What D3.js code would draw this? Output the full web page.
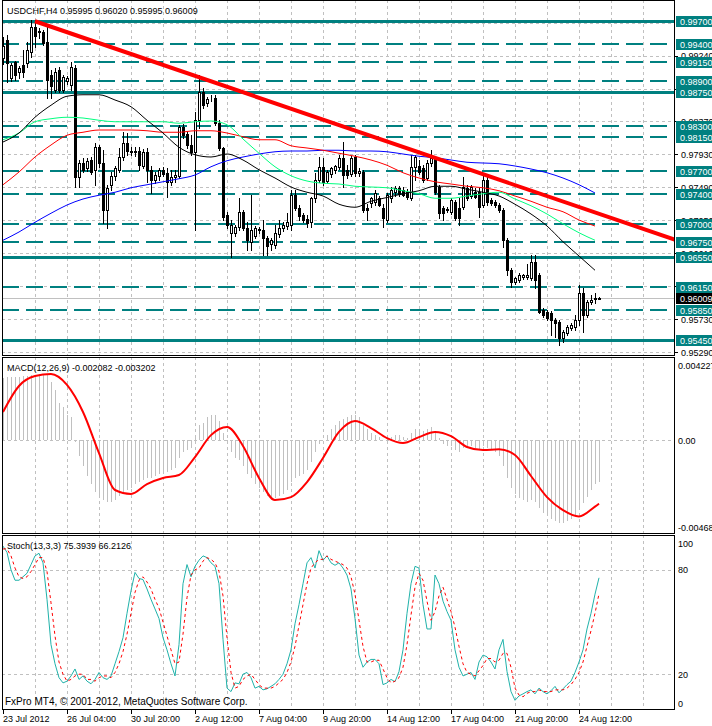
<!DOCTYPE html>
<html><head><meta charset="utf-8">
<script src="https://cdn.jsdelivr.net/npm/d3@7"></script>
<style>
body{margin:0;background:#fff}
svg{display:block}
text{font-family:"Liberation Sans",Arial,sans-serif;font-size:9px;fill:#000}
</style>
</head><body>
<svg id="c" width="712" height="726"></svg>
<script>
// ---------- DATA ----------
const symbolTitle = "USDCHF,H4  0.95995 0.96020 0.95995 0.96009";
const macdTitle = "MACD(12,26,9) -0.002082 -0.003202";
const stochTitle = "Stoch(13,3,3) 75.3939 66.2126";
const footer = "FxPro MT4, \u00A9 2001-2012, MetaQuotes Software Corp.";

const opens = [0.9921,0.9945,0.9894,0.9916,0.9902,0.9912,0.9914,0.9929,0.9962,0.9956,
0.9956,0.9942,0.9898,0.9878,0.9905,0.9878,0.9890,0.9885,0.9908,0.9762,
0.9781,0.9774,0.9785,0.9772,0.9802,0.9781,0.9718,0.9752,0.9764,0.9772,
0.9789,0.9808,0.9797,0.9796,0.9797,0.9777,0.9796,0.9772,0.9758,0.9764,
0.9772,0.9768,0.9756,0.9762,0.9764,0.9829,0.9820,0.9805,0.9796,0.9838,
0.9876,0.9861,0.9868,0.9868,0.9834,0.9801,0.9712,0.9688,0.9688,0.9696,
0.9716,0.9694,0.9676,0.9684,0.9692,0.9692,0.9681,0.9673,0.9672,0.9686,
0.9694,0.9697,0.9698,0.9738,0.9721,0.9712,0.9706,0.9702,0.9734,0.9758,
0.9776,0.9757,0.9766,0.9772,0.9776,0.9788,0.9772,0.9766,0.9789,0.9768,
0.9769,0.9721,0.9728,0.9729,0.9734,0.9721,0.9705,0.9734,0.9742,0.9748,
0.9745,0.9742,0.9734,0.9776,0.9777,0.9774,0.9761,0.9781,0.9788,0.9749,
0.9721,0.9718,0.9716,0.9729,0.9721,0.9722,0.9748,0.9737,0.9742,0.9742,
0.9725,0.9758,0.9732,0.9729,0.9725,0.9718,0.9678,0.9638,0.9622,0.9625,
0.9629,0.9629,0.9628,0.9649,0.9632,0.9585,0.9582,0.9581,0.9572,0.9569,
0.9548,0.9554,0.9561,0.9562,0.9572,0.9608,0.9578,0.9596,0.9600,0.95995];
const highs = [0.9949,0.9952,0.9914,0.9917,0.9910,0.9932,0.9942,0.9972,0.9972,0.9961,
0.9958,0.9962,0.9905,0.9908,0.9909,0.9898,0.9897,0.9916,0.9912,0.9785,
0.9788,0.9788,0.9789,0.9808,0.9805,0.9798,0.9752,0.9769,0.9777,0.9801,
0.9822,0.9821,0.9802,0.9803,0.9803,0.9800,0.9801,0.9777,0.9769,0.9774,
0.9776,0.9774,0.9772,0.9772,0.9832,0.9833,0.9822,0.9818,0.9849,0.9898,
0.9881,0.9869,0.9872,0.9872,0.9838,0.9802,0.9716,0.9705,0.9698,0.9734,
0.9718,0.9702,0.9738,0.9697,0.9696,0.9705,0.9684,0.9681,0.9698,0.9705,
0.9702,0.9714,0.9745,0.9745,0.9725,0.9714,0.9712,0.9736,0.9768,0.9789,
0.9788,0.9772,0.9776,0.9778,0.9792,0.9809,0.9778,0.9790,0.9792,0.9774,
0.9772,0.9726,0.9736,0.9745,0.9737,0.9726,0.9741,0.9749,0.9750,0.9750,
0.9749,0.9746,0.9792,0.9792,0.9785,0.9778,0.9785,0.9798,0.9790,0.9752,
0.9724,0.9722,0.9734,0.9732,0.9734,0.9762,0.9752,0.9752,0.9748,0.9748,
0.9768,0.9764,0.9734,0.9732,0.9728,0.9721,0.9681,0.9641,0.9629,0.9634,
0.9633,0.9646,0.9658,0.9658,0.9634,0.9588,0.9585,0.9583,0.9574,0.9572,
0.9558,0.9565,0.9568,0.9578,0.9618,0.9614,0.9598,0.9605,0.9608,0.96020];
const lows = [0.9913,0.9889,0.9890,0.9892,0.9894,0.9896,0.9909,0.9922,0.9936,0.9948,
0.9938,0.9868,0.9868,0.9876,0.9876,0.9876,0.9886,0.9878,0.9749,0.9749,
0.9769,0.9770,0.9766,0.9752,0.9776,0.9701,0.9694,0.9745,0.9758,0.9769,
0.9785,0.9792,0.9792,0.9790,0.9772,0.9774,0.9756,0.9741,0.9754,0.9758,
0.9764,0.9736,0.9752,0.9756,0.9761,0.9814,0.9801,0.9792,0.9692,0.9828,
0.9854,0.9857,0.9864,0.9832,0.9798,0.9705,0.9694,0.9656,0.9684,0.9692,
0.9692,0.9665,0.9665,0.9681,0.9688,0.9658,0.9658,0.9665,0.9668,0.9682,
0.9690,0.9693,0.9692,0.9718,0.9705,0.9702,0.9696,0.9696,0.9729,0.9756,
0.9752,0.9754,0.9762,0.9768,0.9773,0.9749,0.9761,0.9764,0.9764,0.9764,
0.9716,0.9705,0.9722,0.9725,0.9724,0.9696,0.9702,0.9729,0.9737,0.9737,
0.9737,0.9733,0.9732,0.9758,0.9766,0.9756,0.9758,0.9777,0.9740,0.9708,
0.9705,0.9716,0.9713,0.9705,0.9698,0.9720,0.9732,0.9734,0.9734,0.9709,
0.9722,0.9725,0.9725,0.9722,0.9716,0.9669,0.9632,0.9616,0.9620,0.9622,
0.9626,0.9626,0.9625,0.9614,0.9581,0.9576,0.9572,0.9552,0.9549,0.9538,
0.9542,0.9552,0.9558,0.9558,0.9565,0.9556,0.9576,0.9593,0.9594,0.95995];
const closes = [0.9937,0.9914,0.9912,0.9898,0.9908,0.9902,0.9932,0.9962,0.9950,0.9957,
0.9941,0.9892,0.9884,0.9902,0.9878,0.9896,0.9894,0.9909,0.9762,0.9781,
0.9772,0.9784,0.9769,0.9802,0.9781,0.9718,0.9748,0.9764,0.9774,0.9789,
0.9808,0.9797,0.9796,0.9797,0.9778,0.9796,0.9772,0.9758,0.9765,0.9772,
0.9766,0.9756,0.9762,0.9765,0.9829,0.9818,0.9805,0.9796,0.9838,0.9876,
0.9858,0.9866,0.9867,0.9834,0.9801,0.9709,0.9698,0.9698,0.9696,0.9716,
0.9694,0.9678,0.9692,0.9694,0.9693,0.9681,0.9670,0.9678,0.9688,0.9694,
0.9698,0.9702,0.9738,0.9721,0.9710,0.9705,0.9701,0.9734,0.9758,0.9776,
0.9756,0.9769,0.9774,0.9777,0.9788,0.9765,0.9765,0.9788,0.9768,0.9770,
0.9718,0.9718,0.9734,0.9741,0.9725,0.9708,0.9738,0.9745,0.9748,0.9740,
0.9738,0.9736,0.9776,0.9789,0.9769,0.9758,0.9781,0.9788,0.9742,0.9714,
0.9714,0.9720,0.9732,0.9708,0.9708,0.9749,0.9734,0.9749,0.9736,0.9722,
0.9758,0.9729,0.9728,0.9725,0.9718,0.9678,0.9638,0.9622,0.9628,0.9632,
0.9632,0.9632,0.9649,0.9625,0.9582,0.9578,0.9574,0.9572,0.9568,0.9548,
0.9556,0.9562,0.9565,0.9572,0.9608,0.9578,0.9596,0.9598,0.9601,0.96009];

// moving averages sampled every 4 bars
const maBars = [0,4,8,12,16,20,24,28,32,36,40,44,48,52,56,60,64,68,72,76,80,84,88,92,96,100,104,108,112,116,120,124,128,132,136,140,144,148];
const maBlack = [0.9809,0.9821,0.9842,0.9858,0.9870,0.9872,0.9872,0.9865,0.9856,0.9838,0.9821,0.9802,0.9792,0.9789,0.9793,0.9785,0.9772,0.9761,0.9749,0.9742,0.9737,0.9726,0.9722,0.9730,0.9735,0.9740,0.9744,0.9750,0.9750,0.9746,0.9742,0.9737,0.9726,0.9713,0.9697,0.9676,0.9657,0.9638];
const maGreen = [0.9812,0.9821,0.9836,0.9840,0.9842,0.9841,0.9838,0.9836,0.9836,0.9836,0.9836,0.9834,0.9836,0.9837,0.9832,0.9813,0.9794,0.9776,0.9764,0.9757,0.9754,0.9753,0.9750,0.9749,0.9748,0.9744,0.9740,0.9734,0.9734,0.9737,0.9740,0.9742,0.9733,0.9724,0.9713,0.9700,0.9688,0.9678];
const maRed = [0.9752,0.9769,0.9789,0.9805,0.9818,0.9822,0.9825,0.9825,0.9825,0.9824,0.9822,0.9822,0.9824,0.9824,0.9821,0.9816,0.9812,0.9812,0.9804,0.9801,0.9798,0.9794,0.9790,0.9785,0.9778,0.9768,0.9761,0.9756,0.9753,0.9750,0.9748,0.9744,0.9737,0.9730,0.9722,0.9716,0.9705,0.9697];
const maBlue = [0.9678,0.9689,0.9702,0.9714,0.9725,0.9733,0.9738,0.9742,0.9748,0.9752,0.9756,0.9760,0.9765,0.9776,0.9784,0.9789,0.9793,0.9796,0.9797,0.9797,0.9798,0.9798,0.9797,0.9797,0.9796,0.9793,0.9790,0.9788,0.9785,0.9782,0.9781,0.9780,0.9777,0.9773,0.9768,0.9761,0.9752,0.9741];

// trend line anchors (bar, price)
const trendBars = [8, 170];
const trendPrices = [0.9970, 0.9675];

// horizontal levels
const solidLevels = [0.9970, 0.9875, 0.9655, 0.9545];
const dashedLevels = [0.9940, 0.9915, 0.9890, 0.9830, 0.9815, 0.9770, 0.9740, 0.9700, 0.9675, 0.9615, 0.9585];
const lastPrice = 0.96009;
const priceTicks = [0.9529, 0.9573, 0.9617, 0.9661, 0.9705, 0.9749, 0.9793, 0.9837, 0.9880, 0.9924, 0.9968];

// MACD
const macdHist = [0.00318,0.00320,0.00321,0.00322,0.00323,0.00325,0.00328,0.00331,0.00334,0.00336,
0.00336,0.00333,0.00296,0.00255,0.00190,0.00169,0.00129,0.00119,-0.00010,-0.00080,
-0.00130,-0.00180,-0.00220,-0.00260,-0.00290,-0.00300,-0.00310,-0.00310,-0.00300,-0.00280,
-0.00260,-0.00250,-0.00240,-0.00220,-0.00210,-0.00200,-0.00190,-0.00190,-0.00180,-0.00170,
-0.00160,-0.00160,-0.00150,-0.00140,-0.00090,-0.00060,-0.00050,-0.00040,0.00030,0.00080,
0.00090,0.00120,0.00130,0.00130,0.00100,0.00040,-0.00020,-0.00060,-0.00090,-0.00100,
-0.00130,-0.00170,-0.00190,-0.00220,-0.00240,-0.00260,-0.00280,-0.00290,-0.00290,-0.00280,
-0.00270,-0.00250,-0.00210,-0.00190,-0.00180,-0.00170,-0.00150,-0.00110,-0.00060,-0.00020,
0.00000,0.00030,0.00060,0.00080,0.00100,0.00110,0.00120,0.00130,0.00130,0.00120,
0.00080,0.00060,0.00040,0.00030,0.00020,0.00000,0.00010,0.00020,0.00030,0.00030,
0.00020,0.00010,0.00040,0.00060,0.00060,0.00050,0.00060,0.00070,0.00050,0.00010,
-0.00020,-0.00030,-0.00030,-0.00050,-0.00060,-0.00040,-0.00040,-0.00030,-0.00040,-0.00050,
-0.00030,-0.00040,-0.00050,-0.00060,-0.00080,-0.00130,-0.00190,-0.00240,-0.00270,-0.00290,
-0.00300,-0.00310,-0.00300,-0.00310,-0.00340,-0.00365,-0.00385,-0.00400,-0.00410,-0.00420,
-0.00420,-0.00410,-0.00400,-0.00385,-0.00340,-0.00315,-0.00285,-0.00250,-0.00220,-0.002082];
const signalBars = [0,4,8,12,16,20,24,28,32,36,40,44,48,52,56,60,64,68,72,76,80,84,88,92,96,100,104,108,112,116,120,124,128,132,136,140,144,148,149];
const macdSignal = [0.00144,0.00276,0.00326,0.00336,0.00281,0.00144,-0.00064,-0.00251,-0.00271,-0.00221,-0.00190,-0.00175,-0.00084,0.00027,0.00068,-0.00028,-0.00190,-0.00302,-0.00287,-0.00211,-0.00089,0.00043,0.00098,0.00063,0.00012,-0.00013,0.00017,0.00043,0.00022,-0.00033,-0.00049,-0.00044,-0.00074,-0.00180,-0.00287,-0.00353,-0.00385,-0.00335,-0.003202];
const macdTicks = [0.004227, 0, -0.004688];

// Stochastic
const stochMain = [93.6,90,80,74,74,76,78,83,88,89.5,84,63,37,26,18,15,16,19,23,17,
19,16,14.5,17,21,18,17,19,26,33,41,55,68,78.5,75,74.4,69,63,57.5,52,
41,34,26,19,37,72,83,76,82,85.5,88,87,84,82,72,40,12,10,15,14.5,
20,21,18,12,13,11,11.6,13,14.5,17,20,26,34,49,60,72,84,87,81,91,
85.5,88,84,82.6,84,81,77,69,52,31,24,27,28.5,28.5,26,14,15,17,15.7,21.5,
34,55,72,82,81,60,46,46,77,72,62,56,51,34,24,19,20,21,17,27,
31,30,27,23,34,40,21.5,10,5,7.5,8.7,10,11,8.7,12,10,8.7,10.5,13,9.3,
11.6,14,16,21,27,34,46,55,66,75.39];
const stochSignal = [92,92,88,81,76,75,76,79,83,87,87,79,61,42,27,20,16,17,19,20,
20,17,17,16,18,19,19,18,21,26,33,43,55,67,74,76,73,69,63,58,
50,42,34,26,27,43,64,77,80,81,85,87,86,84,79,65,41,21,12,13,
17,19,20,17,14,12,12,12,13,15,17,21,27,36,48,60,72,81,84,86,
86,88,86,85,84,83,81,76,66,51,36,27,27,28,28,23,18,15,16,18,
24,37,54,70,78,74,62,51,56,65,70,63,56,47,36,26,21,20,19,22,
25,29,29,27,28,32,32,24,12,8,7,9,10,10,11,10,10,10,11,11,
11,12,14,17,21,27,36,45,55,66.21];
const stochTicks = [100, 80, 20, 0];

// time axis
const timeLabelBars = [0,16,32,48,64,80,96,112,128,144];
const timeLabels = ["23 Jul 2012","26 Jul 04:00","30 Jul 20:00","2 Aug 12:00","7 Aug 04:00","9 Aug 20:00","14 Aug 12:00","17 Aug 04:00","21 Aug 20:00","24 Aug 12:00"];
const gridBars = [8,16,24,32,40,48,56,64,72,80,88,96,104,112,120,128,136,144,152,160];

// ---------- LAYOUT ----------
const svg = d3.select("#c");
const L = 2, R = 674;
const P = {main:[0,355], macd:[357,533], stoch:[535,709]};
const TEAL = "#008080", GRID = "#c0c0c0";

const x = d3.scaleLinear().domain([0,149]).range([3,599]);
const yP = d3.scaleLinear().domain([0.9545,0.997]).range([340,21.25]);
const yM = d3.scaleLinear().domain([-0.004688,0.004227]).range([533,357]);
const yS = d3.scaleLinear().domain([0,100]).range([709,535]);

const defs = svg.append("defs");
Object.entries(P).forEach(([k,[t,b]])=>{
  defs.append("clipPath").attr("id","clip-"+k).append("rect")
    .attr("x",L).attr("y",t).attr("width",R-L).attr("height",b-t);
});
const px = v => Math.round(v)+0.5;

function panelGroup(k){ return svg.append("g").attr("clip-path","url(#clip-"+k+")"); }

// vertical grid in all panels
Object.entries(P).forEach(([k,[t,b]])=>{
  const g = panelGroup(k);
  g.selectAll("line").data(gridBars).join("line")
    .attr("x1",d=>px(x(d))).attr("x2",d=>px(x(d))).attr("y1",t).attr("y2",b)
    .attr("stroke",GRID).attr("stroke-dasharray","3,3").attr("shape-rendering","crispEdges");
});

// ---------- MAIN PANEL ----------
const gm = panelGroup("main");
gm.selectAll("line.hg").data(priceTicks).join("line").attr("class","hg")
  .attr("x1",L).attr("x2",R).attr("y1",d=>px(yP(d))).attr("y2",d=>px(yP(d)))
  .attr("stroke",GRID).attr("stroke-dasharray","3,3").attr("shape-rendering","crispEdges");

gm.selectAll("line.dl").data(dashedLevels).join("line").attr("class","dl")
  .attr("x1",L).attr("x2",R).attr("y1",d=>Math.round(yP(d))).attr("y2",d=>Math.round(yP(d)))
  .attr("stroke",TEAL).attr("stroke-width",2).attr("stroke-dasharray","17,7").attr("shape-rendering","crispEdges");
gm.selectAll("line.sl").data(solidLevels).join("line").attr("class","sl")
  .attr("x1",L).attr("x2",R).attr("y1",d=>Math.round(yP(d))+0.5).attr("y2",d=>Math.round(yP(d))+0.5)
  .attr("stroke",TEAL).attr("stroke-width",3).attr("shape-rendering","crispEdges");

gm.append("line").attr("x1",L).attr("x2",R).attr("y1",px(yP(lastPrice))).attr("y2",px(yP(lastPrice)))
  .attr("stroke",GRID).attr("shape-rendering","crispEdges");

// candles
const idx = d3.range(opens.length);
const cg = gm.append("g").attr("shape-rendering","crispEdges");
cg.selectAll("line.w").data(idx).join("line").attr("class","w")
  .attr("x1",i=>Math.round(x(i))+0.5).attr("x2",i=>Math.round(x(i))+0.5)
  .attr("y1",i=>Math.round(yP(highs[i]))).attr("y2",i=>Math.round(yP(lows[i]))+1)
  .attr("stroke","#000");
cg.selectAll("rect.b").data(idx).join("rect").attr("class","b")
  .attr("x",i=>Math.round(x(i))-0.5).attr("width",2)
  .attr("y",i=>Math.round(yP(Math.max(opens[i],closes[i])))+0.5)
  .attr("height",i=>Math.max(0,Math.round(yP(Math.min(opens[i],closes[i])))-Math.round(yP(Math.max(opens[i],closes[i])))))
  .attr("fill",i=>closes[i]>=opens[i]?"#fff":"#000").attr("stroke","#000");

// moving averages
function maLine(vals,color){
  const line = d3.line().x((d,j)=>x(maBars[j])).y(d=>yP(d)).curve(d3.curveMonotoneX);
  gm.append("path").datum(vals).attr("d",line).attr("fill","none").attr("stroke",color).attr("stroke-width",1);
}
maLine(maBlue,"#0000ff");
maLine(maRed,"#ff0000");
maLine(maGreen,"#00ff7f");
maLine(maBlack,"#000000");

// trend line
gm.append("line")
  .attr("x1",x(trendBars[0])).attr("y1",yP(trendPrices[0]))
  .attr("x2",x(trendBars[1])).attr("y2",yP(trendPrices[1]))
  .attr("stroke","#ff0000").attr("stroke-width",4);

svg.append("text").attr("x",7).attr("y",14).text(symbolTitle);

// price axis
const ax = svg.append("g");
ax.selectAll("line.t").data(priceTicks.slice(0,-1)).join("line").attr("class","t")
  .attr("x1",R).attr("x2",R+4).attr("y1",d=>px(yP(d))).attr("y2",d=>px(yP(d))).attr("stroke","#000").attr("shape-rendering","crispEdges");
ax.selectAll("text.t").data(priceTicks.slice(0,-1)).join("text").attr("class","t")
  .attr("x",R+7).attr("y",d=>yP(d)+3.5).text(d=>d.toFixed(5));
const boxLevels = solidLevels.concat(dashedLevels);
ax.selectAll("rect.bx").data(boxLevels).join("rect").attr("class","bx")
  .attr("x",R+2).attr("y",d=>Math.round(yP(d))-5).attr("width",40).attr("height",11).attr("fill",TEAL);
ax.selectAll("text.bx").data(boxLevels).join("text").attr("class","bx")
  .attr("x",R+6).attr("y",d=>Math.round(yP(d))+4).style("fill","#fff").text(d=>d.toFixed(5));
ax.append("rect").attr("x",R+2).attr("y",Math.round(yP(lastPrice))-5).attr("width",40).attr("height",11).attr("fill","#000");
ax.append("text").attr("x",R+6).attr("y",Math.round(yP(lastPrice))+4).style("fill","#fff").text(lastPrice.toFixed(5));

// ---------- MACD ----------
const gmc = panelGroup("macd");
gmc.append("line").attr("x1",L).attr("x2",R).attr("y1",px(yM(0))).attr("y2",px(yM(0)))
  .attr("stroke",GRID).attr("stroke-dasharray","3,3").attr("shape-rendering","crispEdges");
gmc.selectAll("line.h").data(idx).join("line").attr("class","h")
  .attr("x1",i=>Math.round(x(i))+0.5).attr("x2",i=>Math.round(x(i))+0.5)
  .attr("y1",Math.round(yM(0))).attr("y2",i=>Math.round(yM(macdHist[i])))
  .attr("stroke","#c0c0c0").attr("shape-rendering","crispEdges");
gmc.append("path").datum(macdSignal)
  .attr("d",d3.line().x((d,j)=>x(signalBars[j])).y(d=>yM(d)).curve(d3.curveMonotoneX))
  .attr("fill","none").attr("stroke","#ff0000").attr("stroke-width",2);
svg.append("text").attr("x",7).attr("y",371).text(macdTitle);
svg.selectAll("text.mt").data(macdTicks).join("text").attr("class","mt")
  .attr("x",R+4).attr("y",d=>Math.min(Math.max(yM(d),P.macd[0]+8),P.macd[1]-6)+3.5)
  .text(d=>d===0?"0.00":d.toFixed(6));

// ---------- STOCH ----------
const gs = panelGroup("stoch");
gs.selectAll("line.g").data([80,20]).join("line").attr("class","g")
  .attr("x1",L).attr("x2",R).attr("y1",d=>px(yS(d))).attr("y2",d=>px(yS(d)))
  .attr("stroke",GRID).attr("stroke-dasharray","3,3").attr("shape-rendering","crispEdges");
gs.append("path").datum(stochMain)
  .attr("d",d3.line().x((d,i)=>x(i)).y(d=>yS(d)))
  .attr("fill","none").attr("stroke","#20b2aa").attr("stroke-width",1);
gs.append("path").datum(stochSignal)
  .attr("d",d3.line().x((d,i)=>x(i)).y(d=>yS(d)))
  .attr("fill","none").attr("stroke","#ff0000").attr("stroke-width",1).attr("stroke-dasharray","3,3");
svg.append("text").attr("x",7).attr("y",549).text(stochTitle);
svg.selectAll("text.st").data(stochTicks).join("text").attr("class","st")
  .attr("x",R+4).attr("y",d=>Math.min(Math.max(yS(d),P.stoch[0]+8),P.stoch[1]-6)+3.5)
  .text(d=>String(d));
svg.append("text").attr("x",5).attr("y",705).style("font-size","10px").text(footer);

// ---------- FRAMES ----------
Object.values(P).forEach(([t,b])=>{
  svg.append("rect").attr("x",L+0.5).attr("y",t+0.5).attr("width",R-L).attr("height",b-t)
    .attr("fill","none").attr("stroke","#000").attr("shape-rendering","crispEdges");
});

// time axis
svg.selectAll("line.tt").data(timeLabelBars).join("line").attr("class","tt")
  .attr("x1",i=>px(x(i))).attr("x2",i=>px(x(i))).attr("y1",710).attr("y2",714)
  .attr("stroke","#000").attr("shape-rendering","crispEdges");
svg.selectAll("text.tt").data(timeLabelBars).join("text").attr("class","tt")
  .attr("x",i=>x(i)).attr("y",722).text((d,j)=>timeLabels[j]);
</script>
</body></html>
